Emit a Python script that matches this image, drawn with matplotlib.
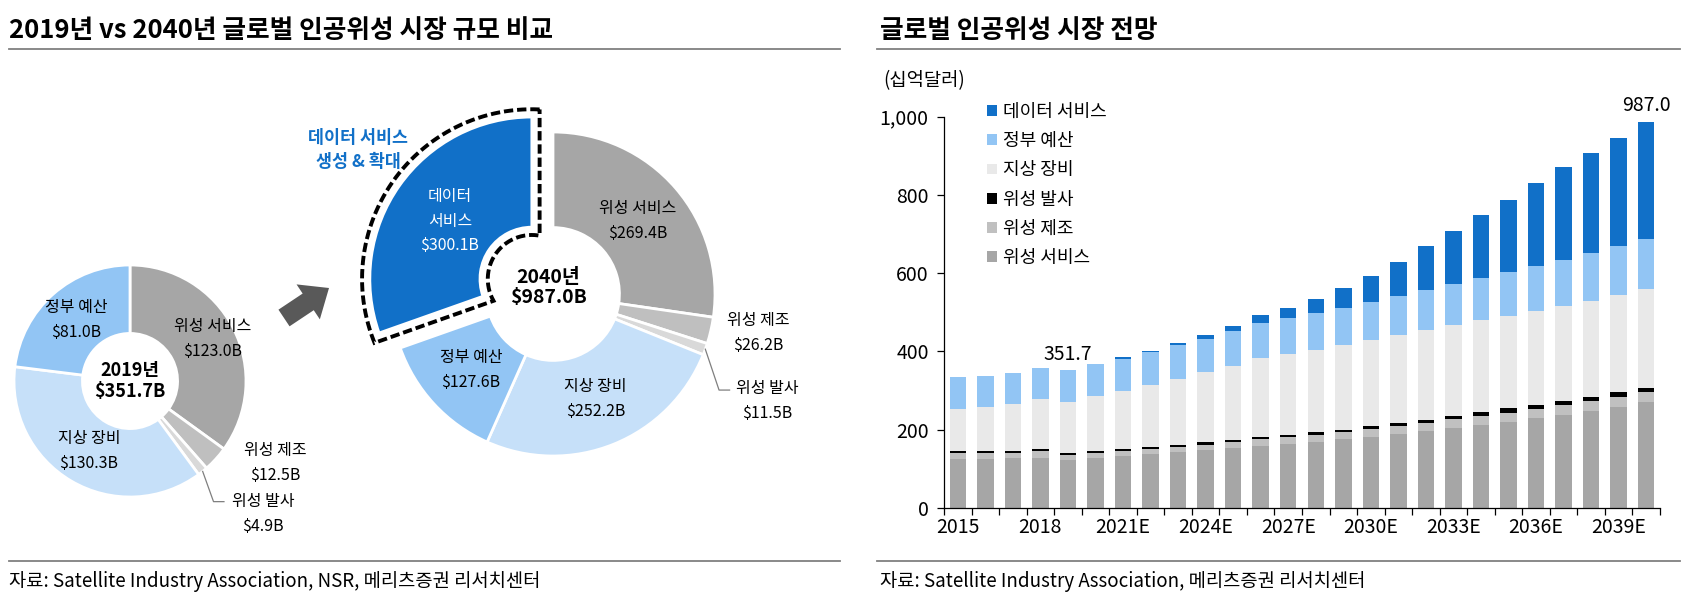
import numpy as np
import matplotlib
matplotlib.use('Agg')
import matplotlib.pyplot as plt
from matplotlib.patches import FancyArrow
from matplotlib.lines import Line2D

KR = 'Noto Sans CJK KR'
NARROW = ['Liberation Sans Narrow', 'Noto Sans CJK KR']
plt.rcParams['font.family'] = [KR, 'DejaVu Sans']

# ---------------- data ----------------
donut_labels_2019 = ['위성 서비스', '위성 제조', '위성 발사', '지상 장비', '정부 예산']
donut_values_2019 = [123.0, 12.5, 4.9, 130.3, 81.0]
donut_labels_2040 = ['위성 서비스', '위성 제조', '위성 발사', '지상 장비', '정부 예산', '데이터 서비스']
donut_values_2040 = [269.4, 26.2, 11.5, 252.2, 127.6, 300.1]

years = ['2015', '2016', '2017', '2018', '2019', '2020', '2021E', '2022E', '2023E',
         '2024E', '2025E', '2026E', '2027E', '2028E', '2029E', '2030E', '2031E',
         '2032E', '2033E', '2034E', '2035E', '2036E', '2037E', '2038E', '2039E', '2040E']
sat_services = [124.7, 124.7, 126.5, 126.5, 123.0, 128.0, 133.0, 137.3, 142.4, 147.5,
                152.7, 157.8, 163.0, 169.0, 174.8, 180.8, 188.5, 196.2, 203.8, 211.5,
                219.2, 228.6, 238.0, 247.3, 257.6, 269.4]
sat_manufacturing = [15.5, 14.5, 14.3, 19.5, 12.5, 11.0, 11.0, 13.0, 12.5, 13.5, 15.3,
                     17.0, 17.0, 17.0, 18.8, 20.5, 20.5, 21.3, 22.2, 23.9, 23.8, 24.7,
                     23.8, 24.7, 25.6, 26.2]
sat_launch = [4.5, 4.8, 4.0, 4.3, 4.9, 6.0, 5.0, 5.2, 5.5, 6.0, 6.0, 6.0, 6.0, 6.7, 5.1,
              7.7, 6.8, 7.7, 8.5, 8.6, 11.0, 9.4, 11.2, 12.0, 11.8, 11.5]
ground_equipment = [107.6, 113.6, 120.2, 126.7, 130.3, 140.0, 150.4, 157.7, 169.5, 179.3,
                    189.3, 201.2, 206.3, 211.6, 218.3, 220.0, 226.0, 230.2, 232.9, 236.2,
                    237.3, 240.5, 243.0, 245.6, 249.1, 252.2]
gov_budget = [81.0, 79.2, 80.3, 80.3, 81.0, 82.0, 81.6, 84.8, 86.2, 86.1, 87.9, 91.3,
              92.1, 93.7, 93.9, 97.2, 99.8, 101.6, 104.9, 107.8, 110.4, 114.7, 118.0,
              121.4, 124.8, 127.6]
data_services = [0, 0, 0, 0, 0, 0, 3.6, 3.2, 5.5, 9.4, 13.6, 18.8, 25.6, 36.0, 52.1,
                 66.8, 86.4, 112.8, 135.7, 160.0, 185.5, 212.7, 237.5, 256.2, 277.5, 300.1]
series_names = ['위성 서비스', '위성 제조', '위성 발사', '지상 장비', '정부 예산', '데이터 서비스']
annotated_years = ['2019', '2040E']

# ---------------- figure ----------------
W, H = 1688, 596
fig = plt.figure(figsize=(W / 100, H / 100), dpi=100)


def fx(x):
    return x / W


def fy(y):
    return 1 - y / H


# titles, rules, sources
fig.text(fx(9), fy(31), '2019년 vs 2040년 글로벌 인공위성 시장 규모 비교', fontsize=18.5,
         fontweight='bold', va='center', ha='left')
fig.text(fx(880), fy(31), '글로벌 인공위성 시장 전망', fontsize=18.5,
         fontweight='bold', va='center', ha='left')
for x0, x1 in [(9, 840), (877, 1680)]:
    for yy in (48.5, 561):
        fig.add_artist(Line2D([fx(x0), fx(x1)], [fy(yy), fy(yy)], color='#808080', lw=1.3))
fig.text(fx(9), fy(581), '자료: Satellite Industry Association, NSR, 메리츠증권 리서치센터',
         fontsize=13.5, family=NARROW, va='center', ha='left')
fig.text(fx(880), fy(581), '자료: Satellite Industry Association, 메리츠증권 리서치센터',
         fontsize=13.5, family=NARROW, va='center', ha='left')

# ---------------- donuts ----------------
C_SERV, C_MFG, C_LAUNCH_D, C_GROUND_D, C_GOV, C_DATA = (
    '#A6A6A6', '#BFBFBF', '#D9D9D9', '#C6E0F9', '#92C5F4', '#1170C8')
LFS = 11.5
LSP = 1.6


def donut(cx, cy, R, lim, values, colors, explode=None):
    half = R * lim
    ax = fig.add_axes([fx(cx - half), fy(cy + half), 2 * half / W, 2 * half / H])
    wedges, _ = ax.pie(values, colors=colors, startangle=90, counterclock=False,
                       radius=1, explode=explode,
                       wedgeprops=dict(width=0.59, edgecolor='white', linewidth=2))
    ax.set_xlim(-lim, lim)
    ax.set_ylim(-lim, lim)
    ax.axis('off')
    return ax, wedges


def inside_label(ax, w, text, rf, color='black'):
    ang = np.deg2rad((w.theta1 + w.theta2) / 2)
    cx0, cy0 = w.center
    ax.text(cx0 + rf * np.cos(ang), cy0 + rf * np.sin(ang), text, ha='center',
            va='center', fontsize=LFS, color=color, linespacing=LSP)


def leader(ax, w, pts):
    ang = np.deg2rad((w.theta1 + w.theta2) / 2)
    xs = [np.cos(ang)] + [p[0] for p in pts]
    ys = [np.sin(ang)] + [p[1] for p in pts]
    ax.plot(xs, ys, color='#7F7F7F', lw=0.9, clip_on=False)


def lab(i, L, V):
    return f'{L[i]}\n${V[i]:.1f}B'


# 2019 donut
ax1, w1 = donut(130, 381, 116, 1.3, donut_values_2019,
                [C_SERV, C_MFG, C_LAUNCH_D, C_GROUND_D, C_GOV])
inside_label(ax1, w1[0], lab(0, donut_labels_2019, donut_values_2019), 0.80)
inside_label(ax1, w1[3], lab(3, donut_labels_2019, donut_values_2019), 0.70)
inside_label(ax1, w1[4], lab(4, donut_labels_2019, donut_values_2019), 0.70)
ax1.text(1.25, -0.71, lab(1, donut_labels_2019, donut_values_2019), ha='center',
         va='center', fontsize=LFS, linespacing=LSP)
ax1.text(1.15, -1.15, lab(2, donut_labels_2019, donut_values_2019), ha='center',
         va='center', fontsize=LFS, linespacing=LSP)
leader(ax1, w1[2], [(0.72, -1.04), (0.81, -1.04)])
ax1.text(0, 0, f'2019년\n${sum(donut_values_2019):.1f}B', ha='center', va='center',
         fontsize=13, fontweight='bold', linespacing=1.1)

# 2040 donut (data-services slice pulled out)
ax2, w2 = donut(553, 294, 162, 1.4, donut_values_2040,
                [C_SERV, C_MFG, C_LAUNCH_D, C_GROUND_D, C_GOV, C_DATA],
                explode=[0, 0, 0, 0, 0, 0.16])
w2[5].set_width(0.68)
inside_label(ax2, w2[0], lab(0, donut_labels_2040, donut_values_2040), 0.69)
inside_label(ax2, w2[3], lab(3, donut_labels_2040, donut_values_2040), 0.70)
inside_label(ax2, w2[4], lab(4, donut_labels_2040, donut_values_2040), 0.69)
inside_label(ax2, w2[5], f'데이터\n서비스\n${donut_values_2040[5]:.1f}B', 0.62,
             color='white')
ax2.text(1.265, -0.24, lab(1, donut_labels_2040, donut_values_2040), ha='center',
         va='center', fontsize=LFS, linespacing=LSP)
ax2.text(1.32, -0.66, lab(2, donut_labels_2040, donut_values_2040), ha='center',
         va='center', fontsize=LFS, linespacing=LSP)
leader(ax2, w2[2], [(1.025, -0.593), (1.09, -0.593)])
ax2.text(-0.03, 0.04, f'2040년\n${sum(donut_values_2040):.1f}B', ha='center',
         va='center', fontsize=14, fontweight='bold', linespacing=1.1)

# dashed outline around the pulled-out data wedge
wd = w2[5]
c0 = np.array(wd.center)
b = wd.r
a = wd.r - wd.width
g = 0.048
bo, ai = b + g, a - g
do = np.degrees(np.arcsin(g / bo))
di = np.degrees(np.arcsin(g / ai))
th_o = np.deg2rad(np.linspace(wd.theta1 - do, wd.theta2 + do, 120))
th_i = np.deg2rad(np.linspace(wd.theta2 + di, wd.theta1 - di, 60))
px = np.concatenate([bo * np.cos(th_o), ai * np.cos(th_i), [bo * np.cos(th_o[0])]]) + c0[0]
py = np.concatenate([bo * np.sin(th_o), ai * np.sin(th_i), [bo * np.sin(th_o[0])]]) + c0[1]
ax2.plot(px, py, color='black', lw=2.8, linestyle=(0, (2.4, 1.0)),
         dash_joinstyle='miter', clip_on=False)

# callout text and arrow
fig.text(fx(358), fy(150), '데이터 서비스\n생성 & 확대', ha='center', va='center',
         fontsize=12.5, fontweight='bold', color=C_DATA, linespacing=1.45)
fig.add_artist(FancyArrow(2.84, (H - 318) / 100, 0.45, 0.30, width=0.20, head_width=0.42,
                          head_length=0.25, length_includes_head=True, color='#595959',
                          lw=0, transform=fig.dpi_scale_trans))

# ---------------- stacked bars ----------------
axb = fig.add_axes([fx(944), fy(507.7), fx(1660) - fx(944), fy(116.7) - fy(507.7)])
series = [sat_services, sat_manufacturing, sat_launch, ground_equipment, gov_budget,
          data_services]
bar_colors = ['#A6A6A6', '#C0C0C0', '#000000', '#E9E9E9', '#92C5F4', '#1170C8']
x = np.arange(len(years))
bottom = np.zeros(len(years))
containers = []
for vals, col, name in zip(series, bar_colors, series_names):
    bc = axb.bar(x, vals, 0.6, bottom=bottom, color=col, label=name, linewidth=0)
    containers.append(bc)
    bottom = bottom + np.array(vals)
totals = bottom

axb.set_xlim(-0.5, len(years) - 0.5)
axb.set_ylim(0, 1000)
axb.set_xticks(x[::3])
axb.set_xticklabels(years[::3], family=NARROW, fontsize=14)
axb.set_xticks(np.arange(-0.5, len(years), 1), minor=True)
axb.tick_params(axis='x', which='major', length=0, pad=7)
axb.tick_params(axis='x', which='minor', length=5, direction='out', width=0.9)
axb.set_yticks(np.arange(0, 1001, 200))
axb.set_yticklabels([f'{int(v):,}' for v in np.arange(0, 1001, 200)], family=NARROW,
                    fontsize=14)
axb.tick_params(axis='y', length=5, direction='out', width=0.9, pad=6)
for s in ('top', 'right'):
    axb.spines[s].set_visible(False)
for s in ('left', 'bottom'):
    axb.spines[s].set_linewidth(0.9)

for yr in annotated_years:
    i = years.index(yr)
    axb.annotate(f'{totals[i]:.1f}', (x[i], totals[i]), xytext=(0, 4),
                 textcoords='offset points', ha='center', va='bottom', fontsize=14,
                 family=NARROW, annotation_clip=False)

fig.text(fx(883), fy(81), '(십억달러)', fontsize=13.5, ha='left', va='center')

leg = fig.legend(containers[::-1], series_names[::-1], loc='upper left',
                 bbox_to_anchor=(fx(987), fy(103)), frameon=False, handlelength=0.55,
                 handleheight=0.55, handletextpad=0.35, labelspacing=0.62,
                 prop=dict(family=KR, size=13), borderaxespad=0, borderpad=0)

fig.savefig('out.png', dpi=100)
